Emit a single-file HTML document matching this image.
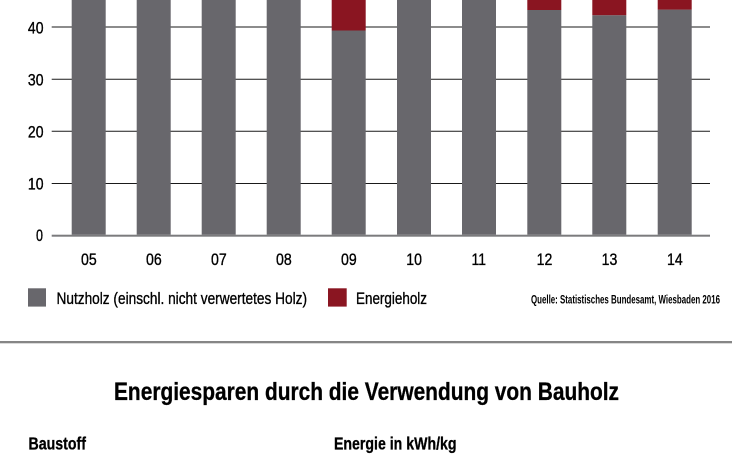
<!DOCTYPE html>
<html>
<head>
<meta charset="utf-8">
<style>
  html,body{margin:0;padding:0;background:#fff;}
  svg{display:block;}
  text{font-family:"Liberation Sans",sans-serif;fill:#000;}
  .reg{stroke:#000;stroke-width:0.35;}
  .bld{stroke:#000;stroke-width:0.3;}
</style>
</head>
<body>
<svg width="732" height="469" viewBox="0 0 732 469" xmlns="http://www.w3.org/2000/svg">
  <rect x="0" y="0" width="732" height="469" fill="#fff"/>

  <!-- gridlines -->
  <g stroke="#1a1a1a" stroke-width="1">
    <line x1="51.7" y1="27" x2="710" y2="27"/>
    <line x1="51.7" y1="79.2" x2="710" y2="79.2"/>
    <line x1="51.7" y1="131.3" x2="710" y2="131.3"/>
    <line x1="51.7" y1="183.5" x2="710" y2="183.5"/>
  </g>
  <rect x="51.7" y="234.7" width="658.3" height="2" fill="#7b7b7d"/>

  <!-- bars -->
  <g fill="#68676c">
    <rect x="71.7" y="0" width="34" height="234.7"/>
    <rect x="136.7" y="0" width="34" height="234.7"/>
    <rect x="201.7" y="0" width="34" height="234.7"/>
    <rect x="266.7" y="0" width="34" height="234.7"/>
    <rect x="331.7" y="30.5" width="34" height="204.2"/>
    <rect x="397" y="0" width="34" height="234.7"/>
    <rect x="462" y="0" width="34" height="234.7"/>
    <rect x="527.3" y="10" width="34" height="224.7"/>
    <rect x="592.3" y="15.2" width="34" height="219.5"/>
    <rect x="657.7" y="9.6" width="34" height="225.1"/>
  </g>
  <g fill="#8a1521">
    <rect x="331.7" y="0" width="34" height="30.5"/>
    <rect x="527.3" y="0" width="34" height="10"/>
    <rect x="592.3" y="0" width="34" height="15.2"/>
    <rect x="657.7" y="0" width="34" height="9.6"/>
  </g>

  <!-- y labels -->
  <g font-size="16.5" text-anchor="end" class="reg">
    <text x="43.5" y="33.3" textLength="15.6" lengthAdjust="spacingAndGlyphs">40</text>
    <text x="43.5" y="85.4" textLength="15.6" lengthAdjust="spacingAndGlyphs">30</text>
    <text x="43.5" y="137.5" textLength="15.6" lengthAdjust="spacingAndGlyphs">20</text>
    <text x="43.5" y="189.6" textLength="15.6" lengthAdjust="spacingAndGlyphs">10</text>
    <text x="43" y="240.8" textLength="7" lengthAdjust="spacingAndGlyphs">0</text>
  </g>

  <!-- x labels -->
  <g font-size="16.5" class="reg">
    <text x="81" y="265" textLength="15.7" lengthAdjust="spacingAndGlyphs">05</text>
    <text x="146" y="265" textLength="15.7" lengthAdjust="spacingAndGlyphs">06</text>
    <text x="211" y="265" textLength="15.7" lengthAdjust="spacingAndGlyphs">07</text>
    <text x="276" y="265" textLength="15.7" lengthAdjust="spacingAndGlyphs">08</text>
    <text x="341" y="265" textLength="15.7" lengthAdjust="spacingAndGlyphs">09</text>
    <text x="406.3" y="265" textLength="15.7" lengthAdjust="spacingAndGlyphs">10</text>
    <text x="471.5" y="265" textLength="14.5" lengthAdjust="spacingAndGlyphs">11</text>
    <text x="536.6" y="265" textLength="15.7" lengthAdjust="spacingAndGlyphs">12</text>
    <text x="601.6" y="265" textLength="15.7" lengthAdjust="spacingAndGlyphs">13</text>
    <text x="667" y="265" textLength="15.7" lengthAdjust="spacingAndGlyphs">14</text>
  </g>

  <!-- legend -->
  <rect x="28" y="288.3" width="18" height="18.3" fill="#68676c"/>
  <text class="reg" x="56.5" y="304" font-size="16.5" textLength="250.5" lengthAdjust="spacingAndGlyphs">Nutzholz (einschl. nicht verwertetes Holz)</text>
  <rect x="328" y="288.3" width="18.7" height="18.3" fill="#8a1521"/>
  <text class="reg" x="356" y="304" font-size="16.5" textLength="71" lengthAdjust="spacingAndGlyphs">Energieholz</text>
  <text x="531" y="303.3" font-size="12" font-weight="bold" textLength="189" lengthAdjust="spacingAndGlyphs">Quelle: Statistisches Bundesamt, Wiesbaden 2016</text>

  <!-- separator -->
  <rect x="0" y="341" width="732" height="2.3" fill="#868686"/>

  <!-- title -->
  <text class="bld" x="114" y="400" font-size="25" font-weight="bold" textLength="505" lengthAdjust="spacingAndGlyphs">Energiesparen durch die Verwendung von Bauholz</text>

  <!-- column headers -->
  <text class="bld" x="28.5" y="449.5" font-size="17.5" font-weight="bold" textLength="57.5" lengthAdjust="spacingAndGlyphs">Baustoff</text>
  <text class="bld" x="334" y="449.5" font-size="17.5" font-weight="bold" textLength="122.5" lengthAdjust="spacingAndGlyphs">Energie in kWh/kg</text>
</svg>
</body>
</html>
